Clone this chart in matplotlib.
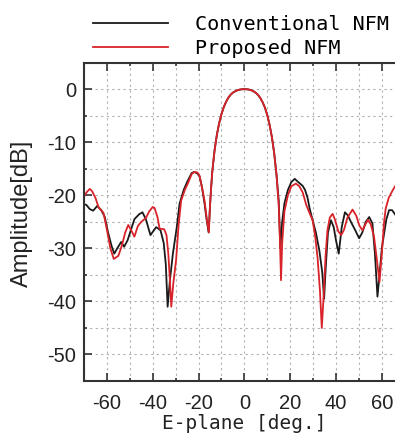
import matplotlib
matplotlib.use("Agg")
import matplotlib.pyplot as plt
from matplotlib.ticker import MultipleLocator

# ── data (deg, dB) ──────────────────────────────────────────────────────────
main_lobe_deg = [-15.0, -14.5, -14.0, -13.0, -12.0, -11.0, -10.0, -9.0, -8.0,
                 -7.0, -6.0, -5.0, -4.0, -3.0, -2.0, -1.0, 0.0, 1.0, 2.0, 3.0,
                 4.0, 5.0, 6.0, 7.0, 8.0, 9.0, 10.0, 11.0, 12.0, 13.0, 14.0]
main_lobe_db = [-22.0, -18.5, -15.5, -11.5, -8.6, -6.4, -4.7, -3.4, -2.4,
                -1.6, -1.05, -0.65, -0.4, -0.2, -0.08, -0.02, 0.0, -0.02, -0.08,
                -0.2, -0.4, -0.7, -1.1, -1.7, -2.5, -3.5, -4.9, -6.7, -9.0,
                -12.0, -16.0]

conv_left_deg = [-70.0, -69.0, -67.5, -66.0, -64.2, -62.5, -61.0, -59.5, -58.0,
                 -56.8, -55.5, -53.8, -52.5, -51.0, -48.0, -46.0, -44.5, -43.0,
                 -41.0, -38.5, -36.6, -35.2, -34.3, -33.5, -32.5, -31.2, -29.5,
                 -28.3, -26.5, -25.0, -23.0, -21.8, -20.5, -19.5, -18.5, -17.4,
                 -16.5, -15.6]
conv_left_db = [-21.7, -21.8, -22.6, -22.9, -22.0, -22.8, -24.0, -27.0, -29.5,
                -31.0, -30.0, -28.8, -29.7, -28.5, -24.5, -23.6, -23.2, -24.5,
                -27.5, -26.0, -26.6, -29.0, -33.0, -41.0, -36.0, -31.0, -26.0,
                -21.6, -19.0, -17.5, -15.8, -15.6, -15.9, -16.5, -18.5, -21.5,
                -24.5, -27.0]
conv_right_deg = [15.0, 15.7, 16.5, 17.5, 19.0, 20.5, 22.0, 23.5, 25.4, 26.5,
                  27.6, 28.5, 29.8, 31.2, 32.7, 34.0, 34.8, 35.6, 36.5, 37.8,
                  39.0, 40.0, 41.2, 42.5, 43.9, 45.2, 46.5, 48.3, 50.1, 51.5,
                  53.0, 54.5, 55.9, 57.0, 58.1, 59.0, 60.0, 61.0, 62.0, 63.2,
                  64.5, 66.1, 68.0, 70.0]
conv_right_db = [-21.0, -30.0, -25.0, -21.5, -19.0, -17.5, -16.9, -17.5, -18.2,
                 -19.0, -20.5, -22.5, -24.7, -27.0, -30.3, -34.5, -39.5, -33.0,
                 -27.0, -24.7, -26.0, -28.5, -31.0, -26.0, -23.2, -23.8, -25.0,
                 -26.5, -28.1, -27.0, -25.0, -24.1, -25.3, -31.0, -39.1, -35.0,
                 -30.0, -27.2, -24.5, -22.8, -22.8, -23.8, -24.5, -24.0]

prop_left_deg = [-70.0, -69.0, -67.5, -66.5, -65.0, -63.6, -61.5, -60.0, -58.5,
                 -57.0, -55.0, -53.5, -52.0, -50.7, -49.5, -48.0, -46.5, -45.0,
                 -43.0, -41.5, -40.0, -39.2, -38.0, -37.0, -35.0, -34.0, -33.2,
                 -32.5, -31.9, -31.0, -29.8, -28.7, -27.6, -26.0, -24.7, -23.0,
                 -21.8, -20.5, -19.6, -18.5, -17.4, -16.4, -15.5]
prop_left_db = [-20.3, -19.5, -18.8, -19.2, -20.5, -22.3, -23.3, -26.5, -30.0,
                -32.0, -31.4, -29.5, -27.0, -25.6, -26.5, -27.8, -25.8, -25.0,
                -24.3, -23.0, -22.2, -22.4, -24.0, -26.3, -26.4, -27.5, -31.0,
                -36.0, -41.0, -36.5, -32.2, -25.5, -21.0, -19.0, -17.8, -16.0,
                -15.6, -15.7, -16.3, -18.5, -21.0, -24.5, -27.0]
prop_right_deg = [15.0, 15.5, 16.0, 16.5, 17.5, 19.0, 20.5, 22.5, 24.0, 25.5,
                  27.0, 28.3, 29.8, 31.0, 32.0, 33.0, 33.8, 34.6, 35.5, 36.3,
                  37.3, 38.5, 39.5, 41.0, 42.3, 43.5, 45.0, 47.2, 48.8, 50.3,
                  51.6, 52.8, 54.0, 55.2, 56.6, 57.8, 59.0, 60.0, 61.0, 61.7,
                  63.0, 64.7, 66.2, 68.0, 70.0]
prop_right_db = [-22.0, -28.0, -36.0, -29.0, -23.0, -20.0, -18.3, -17.8, -18.3,
                 -19.5, -21.8, -23.2, -24.7, -28.0, -32.0, -38.0, -45.0, -39.0,
                 -31.0, -26.5, -24.2, -23.5, -24.5, -26.8, -27.5, -26.5, -24.2,
                 -22.7, -23.8, -25.8, -26.6, -25.5, -24.6, -25.5, -27.8, -32.0,
                 -36.3, -31.0, -25.0, -22.5, -20.5, -19.1, -18.0, -17.5, -17.5]

angle_conv = conv_left_deg + main_lobe_deg + conv_right_deg
amp_conv = conv_left_db + main_lobe_db + conv_right_db
angle_prop = prop_left_deg + main_lobe_deg + prop_right_deg
amp_prop = prop_left_db + main_lobe_db + prop_right_db

SERIES_NAMES = ["Conventional NFM", "Proposed NFM"]
MONO = "DejaVu Sans Mono"
SANS = "Liberation Sans"

plt.rcParams["font.family"] = SANS
plt.rcParams["axes.unicode_minus"] = False


def main():
    fig = plt.figure(figsize=(3.95, 4.41), dpi=100)
    # right edge of the axes runs past the picture, as in the reference crop
    ax = fig.add_axes([0.2127, 0.136, 0.8119, 0.722])

    ax.plot(angle_conv, amp_conv, color="#1a1a1a", lw=1.3, label=SERIES_NAMES[0])
    ax.plot(angle_prop, amp_prop, color="#d9232a", lw=1.3, label=SERIES_NAMES[1])

    ax.set_xlim(-70, 70)
    ax.set_ylim(-55, 5)
    ax.xaxis.set_major_locator(MultipleLocator(20))
    ax.xaxis.set_minor_locator(MultipleLocator(10))
    ax.yaxis.set_major_locator(MultipleLocator(10))
    ax.yaxis.set_minor_locator(MultipleLocator(5))

    ax.grid(which="both", color="#b0b0b0", linestyle=(0, (2, 3)), linewidth=0.8)
    ax.tick_params(which="both", direction="in", top=True, right=True,
                   colors="#333333", width=1.2)
    ax.tick_params(which="major", length=5.5)
    ax.tick_params(which="minor", length=2)
    ax.tick_params(axis="x", pad=9, labelsize=14.5, labelcolor="#222222")
    ax.tick_params(axis="y", pad=5.8, labelsize=14.5, labelcolor="#222222")
    for sp in ax.spines.values():
        sp.set_linewidth(1.5)
        sp.set_color("#333333")

    ax.set_xlabel("E-plane [deg.]", family=MONO, fontsize=14, color="#222222")
    ax.xaxis.set_label_coords(0.5, -0.103)
    ax.set_ylabel("Amplitude[dB]", family=SANS, fontsize=17, color="#222222")
    ax.yaxis.set_label_coords(-0.159, 0.527)

    ax.legend(loc="lower left", bbox_to_anchor=(0.028, 1.013), frameon=False,
              prop={"family": MONO, "size": 14.5}, handlelength=3.73,
              handletextpad=1.34, labelspacing=0.25, borderpad=0,
              borderaxespad=0)

    fig.savefig("out.png", dpi=100)
    plt.close(fig)


if __name__ == "__main__":
    main()
